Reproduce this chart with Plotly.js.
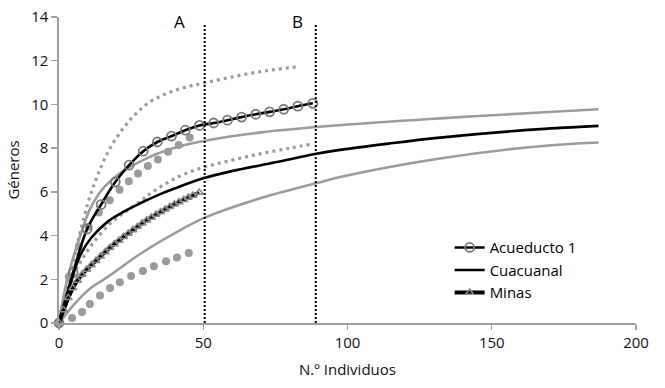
<!DOCTYPE html>
<html>
<head>
<meta charset="utf-8">
<script src="https://cdn.plot.ly/plotly-3.0.1.min.js"></script>
<style>html,body{margin:0;padding:0;background:#fff;}#chart{width:665px;height:388px;}</style>
</head>
<body>
<div id="chart"></div>
<script>
// ---- Data ----
// Acueducto 1 (rarefaction curve with open circles)
var acuX = [0,4.87,9.74,14.6,19.5,24.3,29.2,34.1,39.0,43.8,48.7,53.6,58.4,63.3,68.2,73.0,77.9,82.8,88.0];
var acuY = [0,2.3,4.3,5.42,6.45,7.22,7.86,8.28,8.55,8.82,9.04,9.15,9.28,9.42,9.55,9.66,9.78,9.92,10.05];
// Acueducto 1 confidence limits (small gray dots)
var acuUpX = [0,2.2,4.3,6.6,8.5,10.05,11.8,13.5,15.8,18.7,22.2,26.2,30.8,36.6,43.6,50.5,58,66.2,74,82.4];
var acuUpY = [0,1.3,2.5,3.75,4.75,5.5,6.2,6.8,7.5,8.22,8.9,9.51,10.05,10.46,10.78,10.99,11.2,11.42,11.58,11.72];
var acuLoX = [0,2,4.3,6.6,8.9,12,17,22,28.5,32,40,49,60,70,80,87];
var acuLoY = [0,0.9,1.9,2.6,3.1,3.7,4.45,5.0,5.6,5.95,6.6,7.08,7.45,7.75,8.0,8.17];
// Cuacuanal (black line) and its limits (gray solid lines)
var cuaX = [0,3.1,5.4,7.7,11.2,17,22.8,28.5,34.3,40,50,60,75,88.7,97.4,115,132,150,166.7,187];
var cuaY = [0,1.36,2.42,3.19,3.9,4.65,5.12,5.5,5.85,6.15,6.62,6.95,7.35,7.73,7.92,8.22,8.48,8.7,8.87,9.02];
var cuaUpX = [0,2.5,5.4,8.4,10.6,14,17,21.6,24,31.5,34.3,43.6,51,70,97.4,132,166.7,187];
var cuaUpY = [0,1.8,3.2,4.4,5.17,5.95,6.4,6.9,7.1,7.6,7.76,8.14,8.35,8.72,9.05,9.36,9.63,9.78];
var cuaLoX = [0,3,6.6,11,17,28.5,40,50.5,70,89.3,97.4,132,166.7,187];
var cuaLoY = [0,0.5,1.05,1.6,2.12,3.19,4.1,4.82,5.72,6.4,6.68,7.53,8.09,8.26];
// Minas (thick line with triangles) and its limits (large gray dots)
var minX = [0,1.6,3.2,4.8,6.4,8,9.6,11.2,12.8,14.4,16,17.6,19.2,20.8,22.4,24,25.6,27.2,28.8,30.4,32,33.6,35.2,36.8,38.4,40,41.6,43.2,44.8,46.4,48.6];
var minY = [0,0.6,1.15,1.6,1.95,2.22,2.45,2.65,2.85,3.05,3.25,3.44,3.62,3.78,3.95,4.1,4.26,4.41,4.56,4.7,4.83,4.96,5.08,5.2,5.32,5.43,5.54,5.64,5.74,5.83,5.97];
var minUpX = [0,3.4,6.9,10.3,13.8,17.6,21,24.2,27.4,30.8,34.3,37.8,41.5,45.3];
var minUpY = [0,2.1,3.5,4.4,5.05,5.62,6.1,6.48,6.84,7.18,7.48,7.83,8.14,8.49];
var minLoX = [0,4.5,8.0,10.7,14.2,17.7,21.1,25,29.1,32.9,37.1,40.9,45];
var minLoY = [0,0.23,0.5,0.87,1.26,1.6,1.87,2.15,2.38,2.6,2.83,3.0,3.2];
// Reference lines and labels
var refX = [50.5, 89];
var refLabels = ['A', 'B'];
var refLabelX = [41.9, 82.8];
var legendNames = ['Acueducto 1', 'Cuacuanal', 'Minas'];

var GRAY = '#9b9b9b';
var FONT = 'Open Sans, Noto Sans, sans-serif';

var traces = [
  {x: acuUpX, y: acuUpY, mode: 'lines', line: {color: GRAY, width: 3.2, dash: '3px,4px', shape: 'spline'}, showlegend: false, hoverinfo: 'skip'},
  {x: acuLoX, y: acuLoY, mode: 'lines', line: {color: GRAY, width: 3.2, dash: '3px,4px', shape: 'spline'}, showlegend: false, hoverinfo: 'skip'},
  {x: cuaUpX, y: cuaUpY, mode: 'lines', line: {color: GRAY, width: 2.6, shape: 'spline'}, showlegend: false, hoverinfo: 'skip'},
  {x: cuaLoX, y: cuaLoY, mode: 'lines', line: {color: GRAY, width: 2.6, shape: 'spline'}, showlegend: false, hoverinfo: 'skip'},
  {x: minUpX, y: minUpY, mode: 'markers', marker: {color: GRAY, size: 8, symbol: 'circle'}, showlegend: false, hoverinfo: 'skip', cliponaxis: false},
  {x: minLoX, y: minLoY, mode: 'markers', marker: {color: GRAY, size: 8, symbol: 'circle'}, showlegend: false, hoverinfo: 'skip', cliponaxis: false},
  {x: acuX, y: acuY, name: legendNames[0], mode: 'lines+markers', line: {color: '#000', width: 2.6, shape: 'spline'},
   marker: {symbol: 'circle-open', size: 9, color: '#7a7a7a', line: {width: 1.8}}, cliponaxis: false},
  {x: cuaX, y: cuaY, name: legendNames[1], mode: 'lines', line: {color: '#000', width: 2.6, shape: 'spline'}, cliponaxis: false},
  {x: minX, y: minY, name: legendNames[2], mode: 'lines+markers', line: {color: '#000', width: 4, shape: 'spline'},
   marker: {symbol: 'triangle-up-open', size: 7, color: '#8a8a8a', line: {width: 1.5}}, cliponaxis: false}
];

var shapes = refX.map(function (v) {
  return {type: 'line', xref: 'x', yref: 'y', x0: v, x1: v, y0: 0, y1: 13.7,
          line: {color: '#000', width: 2, dash: '2px,2px'}};
});
var annotations = refLabels.map(function (t, i) {
  return {text: t, xref: 'x', yref: 'paper', x: refLabelX[i], y: 0.985, showarrow: false,
          xanchor: 'center', yanchor: 'middle', font: {family: FONT, size: 17, color: '#000'}};
});

var layout = {
  width: 665, height: 388,
  margin: {l: 59, r: 29, t: 17, b: 65},
  paper_bgcolor: '#fff', plot_bgcolor: '#fff',
  font: {family: FONT, size: 15, color: '#111'},
  showlegend: true,
  legend: {x: 0.677, y: 0.3, xanchor: 'left', yanchor: 'top', bgcolor: 'rgba(0,0,0,0)',
           font: {family: FONT, size: 15, color: '#000'}, tracegroupgap: 0, itemwidth: 30},
  xaxis: {range: [0, 200], tickvals: [0, 50, 100, 150, 200], showgrid: false, zeroline: false,
          showline: true, linecolor: '#a0a0a0', linewidth: 1.6, ticks: 'outside', ticklen: 5,
          tickcolor: '#a0a0a0', tickwidth: 1.4, tickfont: {size: 15, color: '#111'},
          title: {text: 'N.º Individuos', font: {size: 15, color: '#111'}, standoff: 14}},
  yaxis: {range: [0, 14], tickvals: [0, 2, 4, 6, 8, 10, 12, 14], showgrid: false, zeroline: false,
          showline: true, linecolor: '#a0a0a0', linewidth: 1.6, ticks: 'outside', ticklen: 6,
          tickcolor: '#a0a0a0', tickwidth: 1.4, tickfont: {size: 15, color: '#111'},
          title: {text: 'Géneros', font: {size: 15, color: '#111'}, standoff: 8}},
  shapes: shapes,
  annotations: annotations
};

Plotly.newPlot('chart', traces, layout, {displayModeBar: false, staticPlot: true});
</script>
</body>
</html>
